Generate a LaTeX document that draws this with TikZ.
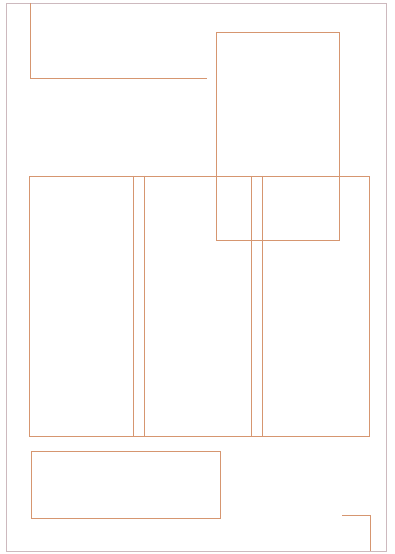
\documentclass[tikz,border=0pt]{standalone}
\definecolor{lineor}{RGB}{214,150,112}
\definecolor{frameg}{RGB}{205,185,190}
\tikzset{
  plan/.style={draw=lineor, line width=0.8pt},
  frame/.style={draw=frameg, line width=0.9pt}
}
\begin{document}
\begin{tikzpicture}[x=1bp,y=-1bp]
\useasboundingbox (0,0) rectangle (394,554);
\fill[white] (0,0) rectangle (394,554);
% outer frame
\draw[frame] (6,3) rectangle (386,551);
% top-left L-shape
\draw[plan] (30,3) -- (30,78) -- (207,78);
% tall box
\draw[plan] (216,32) rectangle (339,240);
% big box
\draw[plan] (29,176) rectangle (369,436);
\draw[plan] (133,176) -- (133,436);
\draw[plan] (144,176) -- (144,436);
\draw[plan] (251,176) -- (251,436);
\draw[plan] (262,176) -- (262,436);
% bottom box
\draw[plan] (31,451) rectangle (220,518);
% bottom-right corner mark
\draw[plan] (342,515) -- (370,515) -- (370,551);
\end{tikzpicture}
\end{document}
